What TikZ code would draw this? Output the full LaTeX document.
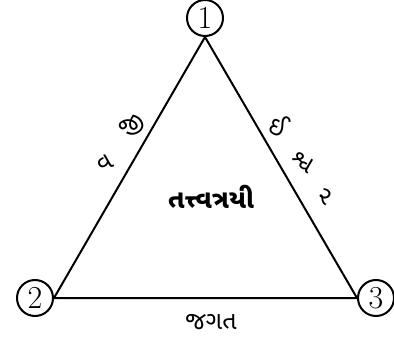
\documentclass[tikz,border=0pt]{standalone}
\usepackage{fontspec}
\newfontfamily\guj[Script=Gujarati]{Noto Sans Gujarati UI}
\begin{document}
\begin{tikzpicture}[x=1pt,y=-1pt,
  vtx/.style={circle,draw,line width=2pt,minimum size=36pt,inner sep=0pt,font=\fontsize{32}{32}\selectfont},
  edge/.style={line width=2pt},
  lbl/.style={font=\guj\fontsize{25}{25}\selectfont,inner sep=0pt}]
\useasboundingbox (0,0) rectangle (394,337);
\node[vtx] (n1) at (205,18) {1};
\node[vtx] (n2) at (35,298) {2};
\node[vtx] (n3) at (376,298) {3};
\draw[edge] (n1.south) -- (n2.east) -- (n3.west) -- (n1.south);
\node[lbl,font=\guj\bfseries\fontsize{26}{26}\selectfont] (c) at (211,197) {તત્ત્વત્રયી};
\node[lbl] (b) at (211,322) {જગત};
\node[lbl,rotate=30] (l1) at (132,126) {જી};
\node[lbl,rotate=30] (l2) at (105,163) {વ};
\node[lbl,rotate=-30] (r1) at (279,125) {ઈ};
\node[lbl,rotate=-30] (r2) at (303,162) {શ્વ};
\node[lbl,rotate=-30] (r3) at (325,197) {ર};
\end{tikzpicture}
\end{document}
